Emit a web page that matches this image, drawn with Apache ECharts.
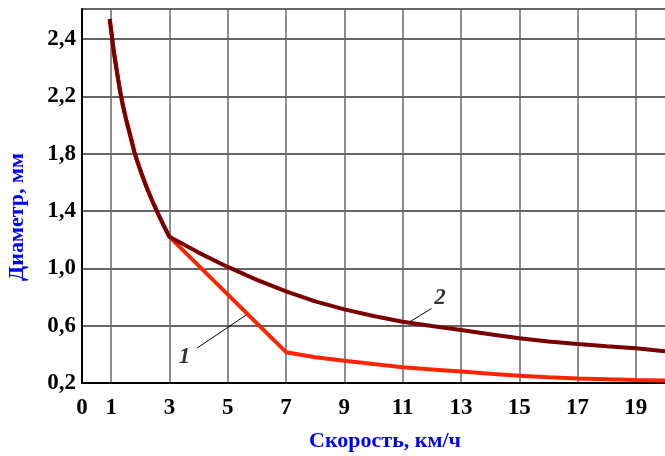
<!DOCTYPE html>
<html><head><meta charset="utf-8">
<script src="https://cdn.jsdelivr.net/npm/echarts@6/dist/echarts.min.js"></script>
<style>html,body{margin:0;padding:0;background:#fff}#c{width:665px;height:456px}</style>
</head><body><div id="c"></div>
<script>
// ---- data ----
const xLabelValues = [0, 1, 3, 5, 7, 9, 11, 13, 15, 17, 19];
const xGridValues = [1, 3, 5, 7, 9, 11, 13, 15, 17, 19];
const yTickValues = [0.2, 0.6, 1.0, 1.4, 1.8, 2.2, 2.6];
const yTickLabels = ['0,2', '0,6', '1,0', '1,4', '1,8', '2,2', '2,4'];
const xMin = 0, xMax = 20, yMin = 0.2, yMax = 2.81;

// shared initial part (both curves coincide up to speed 3)
const sharedX = [0.95, 1.0, 1.1, 1.2, 1.3, 1.4, 1.5, 1.6, 1.7, 1.8, 1.9, 2.0, 2.2, 2.4, 2.6, 2.8, 3.0];
const sharedY = [2.74, 2.66, 2.50, 2.37, 2.245, 2.14, 2.05, 1.97, 1.89, 1.81, 1.745, 1.685, 1.575, 1.475, 1.385, 1.30, 1.22];

// curve 2 after speed 3
const curve2X = [4, 5, 6, 7, 8, 9, 10, 11, 12, 13, 14, 15, 16, 17, 18, 19, 20];
const curve2Y = [1.11, 1.01, 0.92, 0.84, 0.77, 0.714, 0.668, 0.628, 0.598, 0.57, 0.54, 0.512, 0.49, 0.472, 0.456, 0.442, 0.422];

// curve 1 after speed 3
const curve1X = [7, 8, 9, 10, 11, 12, 13, 14, 15, 16, 17, 18, 19, 20];
const curve1Y = [0.415, 0.38, 0.356, 0.332, 0.31, 0.295, 0.28, 0.265, 0.25, 0.24, 0.232, 0.226, 0.221, 0.217];

// curve labels and leader lines
const labelNames = ['1', '2'];
const labelX = [3.52, 12.28];
const labelY = [0.378, 0.79];
const leaderFromX = [3.95, 11.25];
const leaderFromY = [0.444, 0.628];
const leaderToX = [5.73, 11.99];
const leaderToY = [0.688, 0.72];

const xTitle = 'Скорость, км/ч';
const yTitle = 'Диаметр, мм';

// ---- build ----
const zip = (xs, ys) => xs.map((x, i) => [x, ys[i]]);
const curve1 = zip(sharedX, sharedY).concat(zip(curve1X, curve1Y));
const curve2 = zip(sharedX, sharedY).concat(zip(curve2X, curve2Y));

const serif = '"Liberation Serif", "DejaVu Serif", serif';
const chart = echarts.init(document.getElementById('c'), null, {renderer: 'canvas'});

const leaderSeries = labelNames.map((n, i) => ({
  type: 'line', silent: true, symbol: 'none', z: 4,
  lineStyle: {color: '#000', width: 1},
  data: [[leaderFromX[i], leaderFromY[i]], [leaderToX[i], leaderToY[i]]]
}));

chart.setOption({
  animation: false,
  backgroundColor: '#fff',
  grid: {left: 82, top: 9, width: 586, height: 374, containLabel: false},
  xAxis: {
    type: 'value', min: xMin, max: xMax,
    axisLine: {onZero: false, lineStyle: {color: '#000', width: 2}},
    axisTick: {show: false, customValues: xGridValues},
    axisLabel: {customValues: xLabelValues, color: '#000', fontFamily: serif, fontWeight: 'bold', fontSize: 23, margin: 14},
    splitLine: {show: true, lineStyle: {color: '#666', width: 1.5}}
  },
  yAxis: {
    type: 'value', min: yMin, max: yMax,
    axisLine: {onZero: false, lineStyle: {color: '#000', width: 2}},
    axisTick: {show: false, customValues: yTickValues.concat([yMax])},
    axisLabel: {
      customValues: yTickValues, color: '#000', fontFamily: serif, fontWeight: 'bold', fontSize: 23, margin: 6,
      formatter: v => { const k = yTickValues.findIndex(t => Math.abs(t - v) < 1e-6); return k >= 0 ? yTickLabels[k] : ''; }
    },
    splitLine: {show: true, lineStyle: {color: '#333', width: 1.5}}
  },
  series: [
    {type: 'line', name: '1', data: curve1, symbol: 'none', z: 5, lineStyle: {color: '#ff2400', width: 4}},
    {type: 'line', name: '2', data: curve2, symbol: 'none', z: 6, lineStyle: {color: '#7a0000', width: 4}},
    ...leaderSeries,
    {
      type: 'scatter', silent: true, symbolSize: 0, z: 7,
      data: labelNames.map((n, i) => ({value: [labelX[i], labelY[i]], name: n})),
      label: {show: true, position: 'inside', formatter: p => p.name, color: '#000',
        fontFamily: serif, fontStyle: 'italic', fontWeight: 'bold', fontSize: 23}
    }
  ],
  graphic: [
    {type: 'text', x: 17, y: 217, rotation: Math.PI / 2,
      style: {text: yTitle, fill: '#0000ff', font: 'bold 22px ' + serif, align: 'center', verticalAlign: 'middle'}},
    {type: 'text', x: 385, y: 441,
      style: {text: xTitle, fill: '#0000ff', font: 'bold 22px ' + serif, align: 'center', verticalAlign: 'middle'}}
  ]
});
</script>
</body></html>
